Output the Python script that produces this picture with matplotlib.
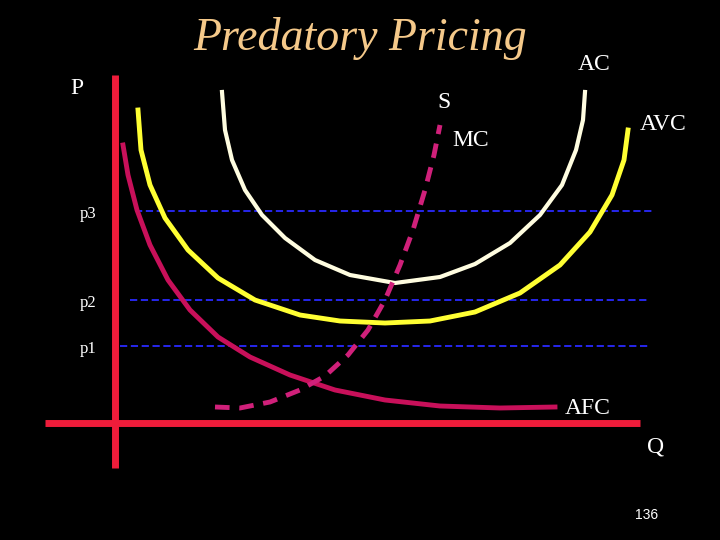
import matplotlib
matplotlib.use("Agg")
import matplotlib.pyplot as plt

ac_x = [222,225,232,245,262,285,315,350,395,440,475,510,540,562,576,583,585]
ac_y = [92,130,160,190,215,238,260,275,283,277,264,243,215,185,150,120,92]
avc_x = [138,141,150,165,188,218,255,300,340,385,430,475,520,560,590,612,624,628]
avc_y = [110,150,185,218,250,278,300,315,321,323,321,312,293,265,232,195,160,130]
afc_x = [123,128,137,150,168,190,218,250,290,335,385,440,500,555]
afc_y = [145,175,210,245,280,310,337,357,375,390,400,406,408,407]
mc_x = [215,240,270,300,325,348,368,385,400,413,425,434,440]
mc_y = [407,408,402,390,376,355,330,300,265,230,190,155,125]
price_labels = ["p3", "p2", "p1"]
price_y = [211, 300, 346]
price_x0 = [135, 130, 120]
price_x1 = [655, 650, 650]

fig = plt.figure(figsize=(7.2, 5.4), dpi=100, facecolor="black")
ax = fig.add_axes([0, 0, 1, 1], facecolor="black")
ax.set_xlim(0, 720); ax.set_ylim(540, 0); ax.axis("off")

for lab, y, a, b in zip(price_labels, price_y, price_x0, price_x1):
    ax.plot([a, b], [y, y], color="#2a2aff", lw=1.3, ls=(0, (4, 2)))
    ax.text(80, y + 3, lab, color="white", fontsize=12, family="Liberation Serif", va="center")

ax.plot([115, 115], [75, 468], color="#ee1c3a", lw=5, solid_capstyle="butt")
ax.plot([45, 640], [423, 423], color="#ee1c3a", lw=5, solid_capstyle="butt")

kw = dict(solid_joinstyle="round")
ax.plot(ac_x, ac_y, color="#fffde0", lw=3, **kw)
ax.plot(avc_x, avc_y, color="#ffff33", lw=3.5, **kw)
ax.plot(afc_x, afc_y, color="#c8105a", lw=3.5, **kw)
ax.plot(mc_x, mc_y, color="#d0207a", lw=3.5, ls=(0, (3, 2)))

ax.text(360, 38, "Predatory Pricing", color="#f5c98a", fontsize=33, style="italic",
        family="Liberation Serif", ha="center", va="center")
serif = dict(color="white", fontsize=17, family="Liberation Serif", va="center")
ax.text(70, 88, "P", **serif)
ax.text(437, 103, "S", **serif)
ax.text(452, 140, "MC", **serif)
ax.text(578, 65, "AC", **serif)
ax.text(640, 124, "AVC", **serif)
ax.text(565, 408, "AFC", **serif)
ax.text(647, 447, "Q", **serif)
ax.text(635, 515, "136", color="white", fontsize=10, family="Liberation Sans", va="center")

fig.savefig("out.png", dpi=100, facecolor="black")
